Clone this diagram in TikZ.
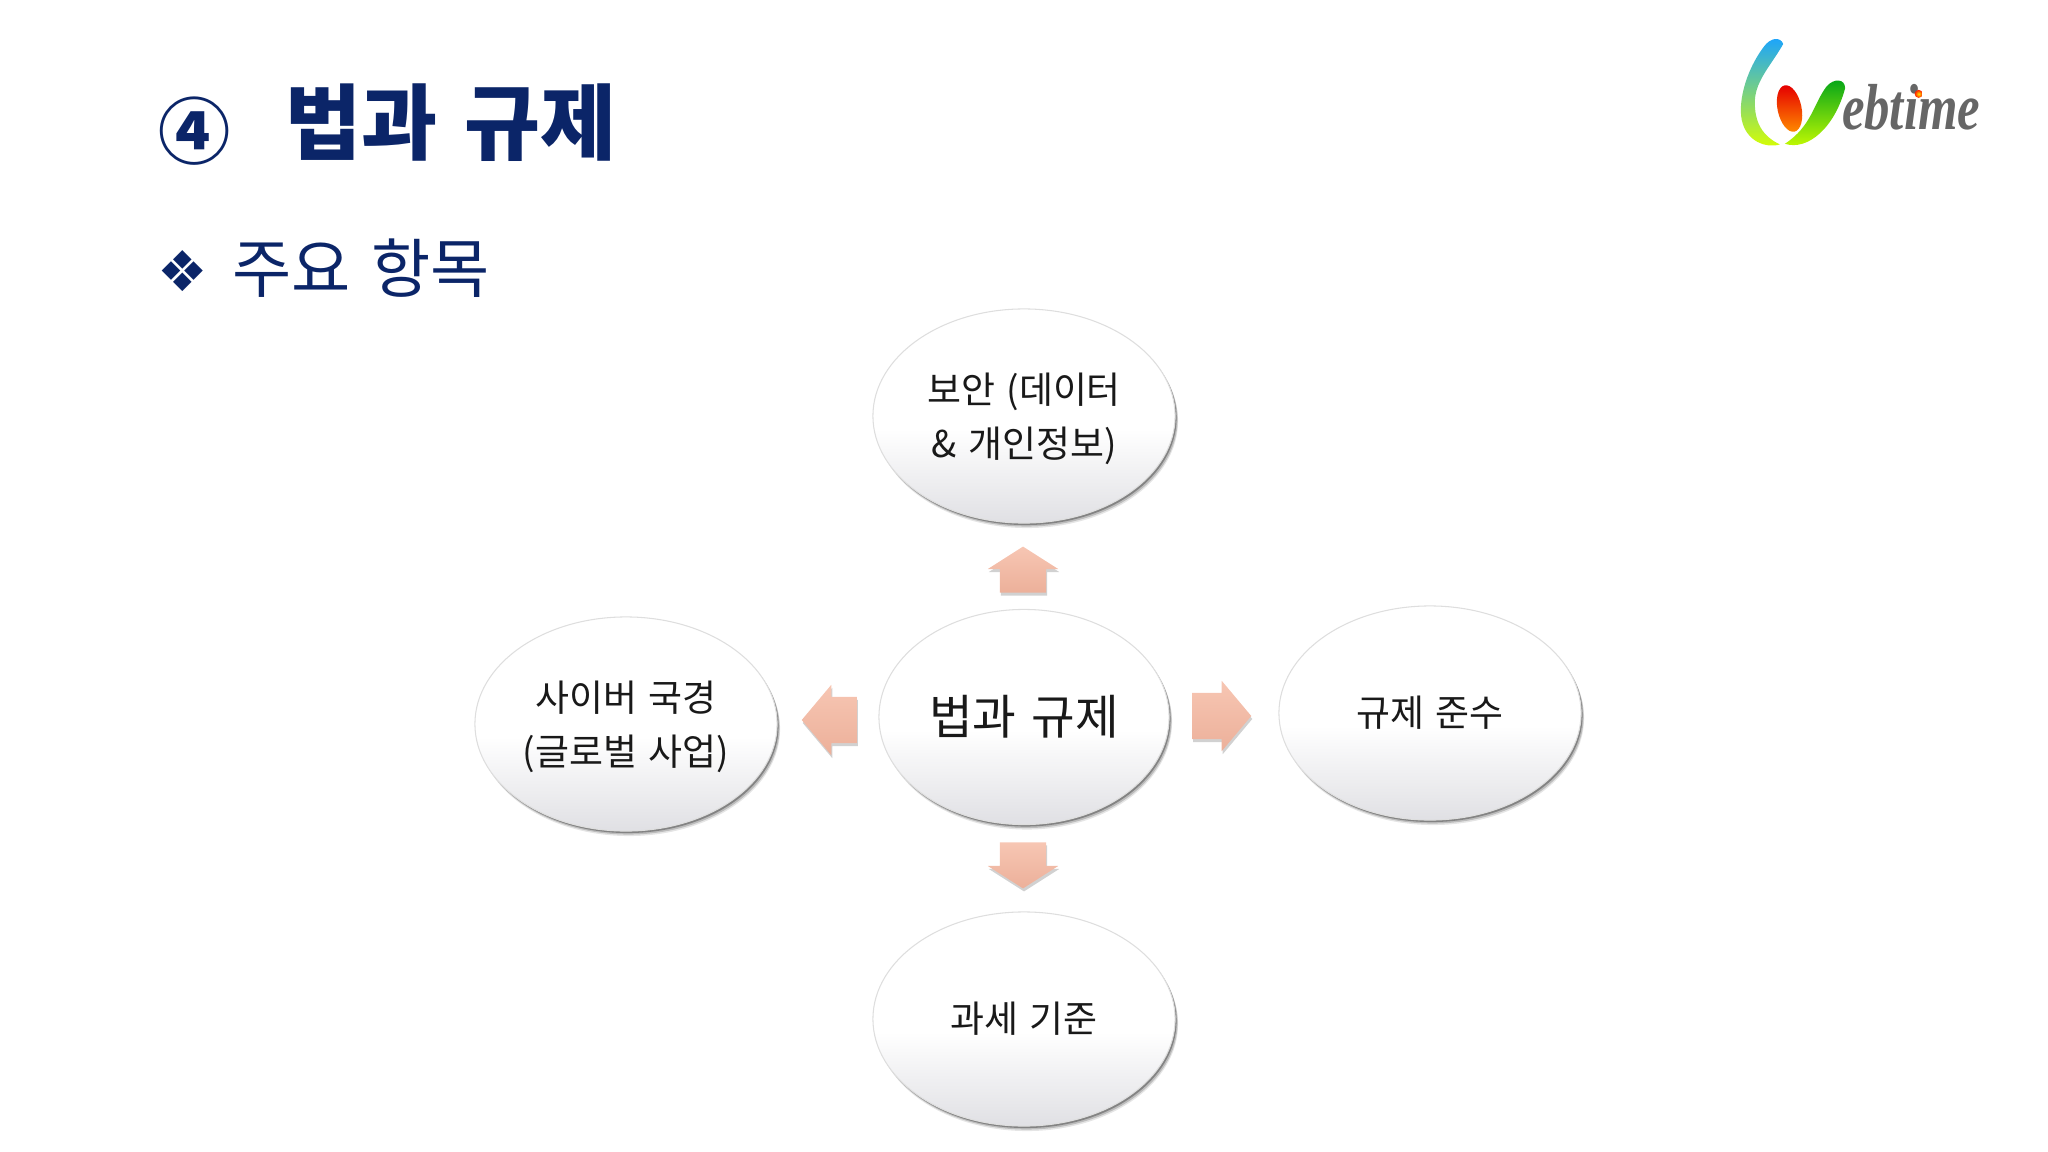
\documentclass[tikz,border=0pt]{standalone}
\usepackage{fontspec}
\setmainfont[WordSpace=1.4]{Noto Sans CJK KR}
\newfontfamily\symfont{DejaVu Sans}
\newfontfamily\logofont{Liberation Serif}
\usetikzlibrary{shapes.geometric,shapes.arrows,shadows}

\definecolor{titleblue}{HTML}{0B2568}
\definecolor{ballgray}{HTML}{E0E0E4}
\definecolor{ballline}{HTML}{DEDEDE}
\definecolor{arrowtop}{HTML}{F7C6B3}
\definecolor{arrowbot}{HTML}{ECB09A}
\definecolor{logogray}{HTML}{666666}

\pgfdeclareverticalshading{ballshade}{100bp}{color(0bp)=(ballgray); color(25bp)=(ballgray); color(47bp)=(white); color(100bp)=(white)}
\newcommand{\firststrut}{\rule{0pt}{0.37cm}}

\tikzset{
  softshadow/.style={
    drop shadow={shadow xshift=0.03cm, shadow yshift=-0.05cm, fill=black, opacity=0.1},
    drop shadow={shadow xshift=0.025cm, shadow yshift=-0.035cm, fill=black, opacity=0.18},
    drop shadow={shadow xshift=0.015cm, shadow yshift=-0.02cm, fill=black, opacity=0.3}},
  ball/.style={ellipse, draw=ballline, line width=0.3pt, inner sep=0pt, align=center,
    minimum width=3.02cm, minimum height=2.14cm, shading=ballshade, softshadow,
    font=\fontsize{10.5}{15.3}\selectfont, text=black!90},
  blockarrow/.style={single arrow, draw=none, inner xsep=0pt, inner ysep=0.225cm, minimum height=0.46cm,
    single arrow head extend=0.12cm, single arrow tip angle=115,
    top color=arrowtop, bottom color=arrowbot,
    drop shadow={shadow xshift=0.01cm, shadow yshift=-0.03cm, fill=black, opacity=0.18}},
  vertarrow/.style={blockarrow, inner xsep=0.225cm, inner ysep=0pt}
}

\begin{document}
\begin{tikzpicture}[x=0.01cm, y=-0.01cm]
  \useasboundingbox (0, 0) rectangle (2048, 1152);

  % 제목
  \node[text=titleblue, font=\fontsize{20.5}{24}\bfseries\selectfont, inner sep=0pt] (circleno) at (195, 131) {④};
  \node[text=titleblue, font=\fontsize{23.5}{28}\bfseries\selectfont, inner sep=0pt, anchor=west] (title) at (285, 123) {법과 규제};
  \node[text=titleblue, font=\fontsize{16}{18}\symfont, inner sep=0pt] (bullet) at (183, 271) {❖};
  \node[text=titleblue, font=\fontsize{18.3}{22}\selectfont, inner sep=0pt, anchor=west] (subtitle) at (232, 268) {주요 항목};

  % 타원
  \node[ball, minimum width=2.9cm, minimum height=2.15cm, font=\fontsize{13.5}{16}\selectfont] (center) at (1024, 717) {법과 규제};
  \node[ball] (top) at (1024, 416) {\firststrut 보안 (데이터\\\& 개인정보)};
  \node[ball] (left) at (626, 724) {\firststrut 사이버 국경\\(글로벌 사업)};
  \node[ball] (right) at (1430, 713) {규제 준수};
  \node[ball] (bottom) at (1024, 1019) {과세 기준};

  % 화살표
  \node[vertarrow, shape border rotate=90] (toparrow) at (1023, 577) {};
  \node[vertarrow, shape border rotate=270] (bottomarrow) at (1023, 858) {};
  \node[blockarrow, shape border rotate=180, minimum height=0.55cm, single arrow tip angle=100] (leftarrow) at (839, 720) {};
  \node[blockarrow, minimum height=0.59cm, single arrow tip angle=100] (rightarrow) at (1212, 716) {};

  % 로고
  \begin{scope}[shift={(1700, 20)}, x=0.00333cm, y=-0.00333cm]
    \shade[top color=cyan!60!blue!90!white, middle color=cyan!30!green!45!white, bottom color=yellow!85!green]
      (250, 72) .. controls (242, 50) and (212, 52) .. (192, 80)
      .. controls (132, 160) and (112, 260) .. (128, 310)
      .. controls (143, 362) and (195, 387) .. (240, 374)
      .. controls (190, 350) and (162, 310) .. (165, 240)
      .. controls (168, 180) and (218, 130) .. (250, 72) -- cycle;
    \shade[top color=red!90!black, bottom color=orange!90!yellow, rotate around={12:(269, 266)}]
      (269, 266) ellipse (36 and 71);
    \shade[top color=green!60!black!90!cyan, bottom color=lime!75!yellow]
      (436, 205) .. controls (436, 176) and (402, 174) .. (380, 200)
      .. controls (342, 250) and (335, 320) .. (255, 372)
      .. controls (325, 394) and (405, 322) .. (436, 205) -- cycle;
    \node[text=logogray, font=\fontsize{18.5}{20}\logofont\bfseries\itshape, inner sep=0pt, anchor=west, xscale=0.78] (logotext) at (425, 262) {ebtime};
    \shade[inner color=yellow!80!orange, outer color=red!80!orange] (657, 222) circle (12);
  \end{scope}
\end{tikzpicture}
\end{document}
